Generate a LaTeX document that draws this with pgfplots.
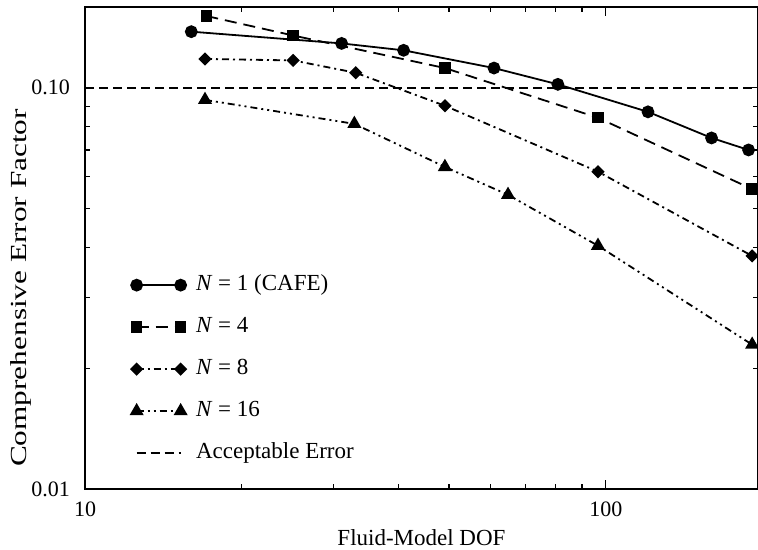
\documentclass[border=0pt]{standalone}
\usepackage{fontspec}
\setmainfont{Liberation Serif}
\usepackage{pgfplots}
\pgfplotsset{compat=1.18}
\usepackage{graphicx}
\begin{document}
\begin{tikzpicture}
\begin{axis}[
  name=ax,
  xmode=log, ymode=log,
  scale only axis,
  width=336.5pt, height=241pt,
  xmin=10, xmax=196, ymin=0.01, ymax=0.159,
  axis line style={line width=0.7pt},
  xtick={10,100}, xticklabels={10,100},
  ytick={0.01,0.1}, yticklabels={0.01,0.10},
  minor xtick={20,30,40,50,60,70,80,90},
  minor ytick={0.02,0.03,0.04,0.05,0.06,0.07,0.08,0.09},
  major tick length=4.5pt, minor tick length=2.5pt,
  tick style={line width=0.6pt, black},
  tick align=inside,
  /pgf/number format/assume math mode=true,
  ticklabel style={font=\fontsize{11}{13}\selectfont},
  xticklabel style={yshift=-3pt},
  yticklabel style={xshift=-4pt},
  xlabel={Fluid-Model DOF},
  xlabel style={font=\fontsize{11.5}{13}\selectfont, at={(axis description cs:0.5,0)}, anchor=base, yshift=-28.5pt},
  ylabel={\scalebox{1.36}[1]{Comprehensive Error Factor}},
  ylabel style={font=\fontsize{11.5}{13}\selectfont, at={(axis description cs:-0.0788,0.417)}, anchor=south, inner sep=0pt},
  legend cell align=left,
  legend style={draw=none, fill=none, at={(0.059,0.458)}, anchor=north west,
    font=\fontsize{11.5}{13}\selectfont,
    nodes={inner sep=1pt, text height=8pt, text depth=2.5pt}, row sep=8.5pt},
  legend image code/.code={\draw[#1] plot coordinates {(0pt,0pt) (22pt,0pt)}; \path (28.25pt,0pt);},
]
\addplot[black, line width=0.9pt, mark=*, mark size=2.75pt, mark options={solid}] coordinates {
(16.0,0.138) (31.1,0.129) (40.9,0.124) (61.0,0.112) (80.9,0.102) (120.5,0.0871) (159.6,0.0750) (188,0.070)};
\addlegendentry{\textit{N} = 1 (CAFE)}
\addplot[black, line width=0.9pt, dash pattern=on 6pt off 3.5pt, mark=square*, mark size=2.4pt, mark options={solid}] coordinates {
(17.1,0.151) (25.1,0.135) (49.1,0.112) (96.6,0.0842) (191,0.0559)};
\addlegendentry{\textit{N} = 4}
\addplot[black, line width=0.9pt, dash pattern=on 3.5pt off 2pt on 1pt off 2pt, mark=square*, mark size=1.9pt, mark options={solid, rotate=45}] coordinates {
(17.0,0.118) (25.1,0.117) (33.1,0.109) (49.1,0.0902) (96.6,0.0618) (191,0.0381)};
\addlegendentry{\textit{N} = 8}
\addplot[black, line width=0.9pt, dash pattern=on 3.5pt off 2pt on 1pt off 2pt on 1pt off 2pt, mark=triangle*, mark size=3.2pt, mark options={solid}] coordinates {
(17.0,0.0933) (32.9,0.0813) (49.1,0.0635) (64.9,0.0541) (96.6,0.0404) (191,0.0229)};
\addlegendentry{\textit{N} = 16}
\addplot[black, line width=0.75pt, dash pattern=on 4.5pt off 2.5pt] coordinates {(10,0.1) (196,0.1)};
\addlegendentry{Acceptable Error}
\end{axis}
\pgfresetboundingbox
\path ([xshift=-42.5pt, yshift=-30.5pt]ax.south west) rectangle ([yshift=3.5pt]ax.north east);
\end{tikzpicture}
\end{document}
